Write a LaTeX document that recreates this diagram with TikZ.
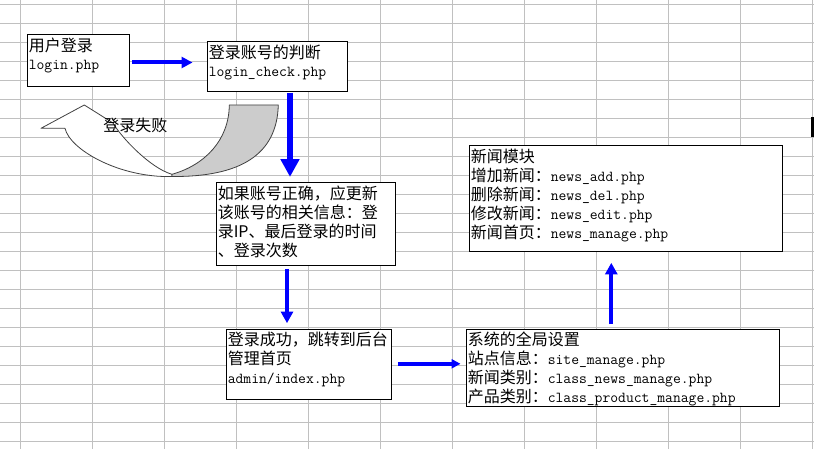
\documentclass[tikz,border=0pt]{standalone}
\usepackage{fontspec}
\setmainfont{Noto Sans CJK SC}
\usetikzlibrary{arrows.meta}
\definecolor{gridc}{HTML}{C0C0C0}
\definecolor{backc}{HTML}{CCCCCC}
\definecolor{edgec}{HTML}{404040}
\newcommand\fmono[1]{{\ttfamily\fontsize{11.4pt}{14pt}\selectfont #1}}
\newcommand\fs{\rule{0pt}{11.25pt}}
\begin{document}
\begin{tikzpicture}[x=0.75pt,y=-0.75pt,
  box/.style={draw=black, line width=0.75pt, fill=white, rectangle, inner sep=0pt, anchor=north west},
  txt/.style={anchor=north west, inner sep=0pt, align=left, font=\fontsize{12pt}{14.25pt}\selectfont},
  txtb/.style={txt, font=\fontsize{12pt}{13.5pt}\selectfont},
  flowA/.style={draw=blue, line width=3pt, -{Triangle[length=8.25pt,width=8.25pt]}},
  flowB/.style={draw=blue, line width=4.5pt, -{Triangle[length=13.3pt,width=13.5pt]}},
  flowC/.style={draw=blue, line width=3pt, -{Triangle[length=8.7pt,width=9pt]}},
  flowD/.style={draw=blue, line width=2.6pt, -{Triangle[length=6.75pt,width=6.75pt]}},
  ribbon/.style={draw=edgec, line width=0.6pt, line join=round}
]
\useasboundingbox (0,0) rectangle (814,449);
\fill[white] (0,0) rectangle (814,449);
% spreadsheet grid
\foreach \k in {0,...,11} \draw[gridc, line width=0.75pt] (20.5+72*\k,0) -- (20.5+72*\k,449);
\foreach \k in {0,...,23} \draw[gridc, line width=0.75pt] (0,4.5+19*\k) -- (814,4.5+19*\k);
\fill[black] (811,117) rectangle (814,137);

% curved "login failed" arrow
\draw[ribbon, fill=white] (41,128.3) -- (84.3,105) -- (113,123)
  .. controls (121,137) and (150,168) .. (172,174.3) -- (172,176.5)
  .. controls (120,178) and (70,150) .. (65,128.3) -- cycle;
\draw[ribbon, fill=backc] (229.3,105) -- (278.3,105)
  .. controls (277,155) and (240,177) .. (172,176.5) -- (172,174.3)
  .. controls (205,165) and (229,140) .. (229.3,105) -- cycle;
\node[inner sep=0pt, font=\fontsize{12pt}{14pt}\selectfont] (fail) at (135.3,125.5) {登录失败};

% boxes
\node[box, minimum width=76.5pt, minimum height=39pt] (n1) at (26.5,34.5) {};
\node[box, minimum width=105pt, minimum height=37.5pt] (n2) at (206.5,41.5) {};
\node[box, minimum width=134.25pt, minimum height=61.5pt] (n3) at (215.5,182.5) {};
\node[box, minimum width=123.75pt, minimum height=52.5pt] (n4) at (225.5,328.5) {};
\node[box, minimum width=234.75pt, minimum height=78.75pt] (n5) at (468.5,145.5) {};
\node[box, minimum width=234.75pt, minimum height=57.75pt] (n6) at (465.5,328.5) {};

% texts
\node[txtb] (t1) at ([shift={(2,2)}]n1.north west) {\fs 用户登录\\ \fmono{login.php}};
\node[txtb] (t2) at ([shift={(2,1.5)}]n2.north west) {\fs 登录账号的判断\\ \fmono{login\_check.php}};
\node[txt] (t3) at ([shift={(2,2)}]n3.north west) {\fs 如果账号正确，应更新\\ 该账号的相关信息：登\\ 录IP、最后登录的时间\\ 、登录次数};
\node[txt] (t4) at ([shift={(2,2)}]n4.north west) {\fs 登录成功，跳转到后台\\ 管理首页\\ \fmono{admin/index.php}};
\node[txt] (t5) at ([shift={(2,2)}]n5.north west) {\fs 新闻模块\\ 增加新闻：\fmono{news\_add.php}\\ 删除新闻：\fmono{news\_del.php}\\ 修改新闻：\fmono{news\_edit.php}\\ 新闻首页：\fmono{news\_manage.php}};
\node[txt] (t6) at ([shift={(2,1.3)}]n6.north west) {\fs 系统的全局设置\\ 站点信息：\fmono{site\_manage.php}\\ 新闻类别：\fmono{class\_news\_manage.php}\\ 产品类别：\fmono{class\_product\_manage.php}};

% connectors
\coordinate (a1s) at ([shift={(2.7,1.5)}]n1.east);
\draw[flowA, shorten >=10.5pt] (a1s) -- (a1s -| n2.west);
\coordinate (a2s) at ([shift={(13,0.5)}]n2.south);
\draw[flowB, shorten >=4.2pt] (a2s) -- (a2s |- n3.north);
\coordinate (a3s) at ([shift={(-18.5,3.4)}]n3.south);
\draw[flowC, shorten >=4pt] (a3s) -- (a3s |- n4.north);
\coordinate (a4s) at ([shift={(6.3,-0.2)}]n4.east);
\draw[flowD, shorten >=3.75pt] (a4s) -- (a4s -| n6.west);
\coordinate (a5s) at ([shift={(-11.2,-4.4)}]n6.north);
\draw[flowC, shorten >=8.5pt] (a5s) -- (a5s |- n5.south);
\end{tikzpicture}
\end{document}
